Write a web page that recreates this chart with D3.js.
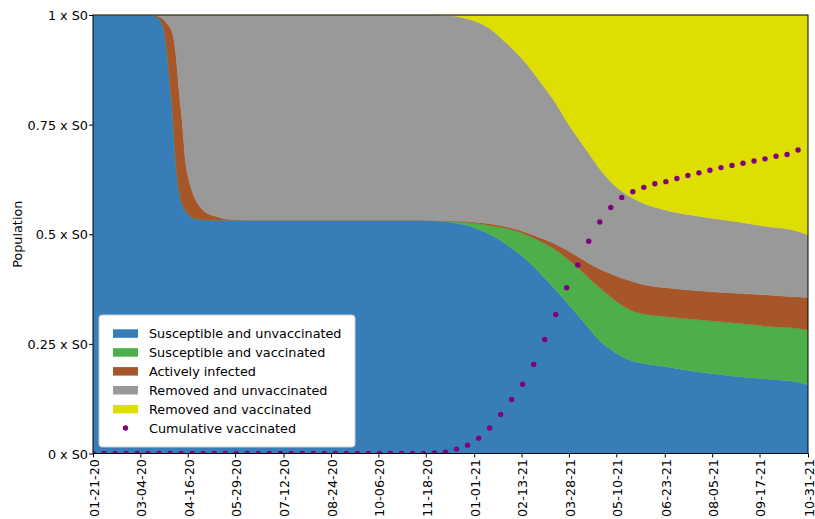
<!DOCTYPE html>
<html>
<head>
<meta charset="utf-8">
<script src="https://cdn.jsdelivr.net/npm/d3@7"></script>
<style>
  body { margin: 0; background: #fff; }
  text { font-family: "DejaVu Sans", sans-serif; fill: #000; }
</style>
</head>
<body>
<svg id="chart" width="815" height="519"></svg>
<script>
// Model output: share of the initial susceptible population S0 in each compartment
const startDate = "2020-01-21";
const dayOffsets = [0, 50, 55, 60, 63, 66, 69, 72, 75, 78, 81, 84, 87, 90, 95, 100, 110, 120, 130, 140,
  200, 300, 310, 320, 330, 340, 350, 360, 370, 380, 390, 400, 410, 420, 430, 440, 450, 460, 470, 480,
  490, 500, 520, 550, 580, 610, 640, 649];

const susceptibleUnvaccinated = [1, 1, 0.998, 0.991, 0.978, 0.942, 0.865, 0.784, 0.667, 0.600, 0.568, 0.553,
  0.544, 0.538, 0.534, 0.533, 0.532, 0.532, 0.532, 0.532, 0.532, 0.532, 0.531, 0.529, 0.525, 0.520, 0.511,
  0.500, 0.486, 0.468, 0.449, 0.426, 0.400, 0.373, 0.345, 0.316, 0.286, 0.257, 0.237, 0.221, 0.211, 0.205,
  0.198, 0.186, 0.177, 0.170, 0.163, 0.156];

const susceptibleVaccinated = [0, 0, 0, 0, 0, 0, 0, 0, 0, 0, 0, 0, 0, 0, 0, 0, 0, 0, 0, 0, 0, 0, 0,
  0.001, 0.004, 0.007, 0.013, 0.020, 0.030, 0.042, 0.053, 0.065, 0.079, 0.091, 0.100, 0.108, 0.114, 0.121,
  0.120, 0.117, 0.114, 0.113, 0.114, 0.119, 0.121, 0.121, 0.122, 0.126];

const activelyInfected = [0, 0, 0.002, 0.005, 0.014, 0.042, 0.110, 0.176, 0.248, 0.230, 0.187, 0.112, 0.081,
  0.060, 0.036, 0.022, 0.010, 0.003, 0.001, 0, 0, 0, 0, 0, 0.001, 0.002, 0.003, 0.004, 0.004, 0.004, 0.005,
  0.007, 0.009, 0.013, 0.019, 0.025, 0.034, 0.043, 0.053, 0.062, 0.067, 0.067, 0.066, 0.066, 0.068, 0.071,
  0.072, 0.074];

const removedUnvaccinated = [0, 0, 0, 0.004, 0.008, 0.016, 0.025, 0.040, 0.085, 0.170, 0.245, 0.335, 0.375,
  0.402, 0.430, 0.445, 0.458, 0.465, 0.467, 0.468, 0.468, 0.468, 0.469, 0.469, 0.467, 0.462, 0.456, 0.445,
  0.428, 0.411, 0.392, 0.370, 0.346, 0.322, 0.293, 0.271, 0.251, 0.228, 0.210, 0.198, 0.190, 0.185, 0.177,
  0.170, 0.164, 0.156, 0.150, 0.142];

const removedVaccinated = [0, 0, 0, 0, 0, 0, 0, 0, 0, 0, 0, 0, 0, 0, 0, 0, 0, 0, 0, 0, 0, 0, 0,
  0.001, 0.003, 0.009, 0.017, 0.031, 0.052, 0.075, 0.101, 0.132, 0.166, 0.201, 0.243, 0.280, 0.315, 0.351,
  0.380, 0.402, 0.418, 0.430, 0.445, 0.459, 0.470, 0.482, 0.493, 0.502];

// Cumulative vaccinated, sampled every 10 days from the start date
const vaccSampleStep = 10;
const cumulativeVaccinated = [0, 0, 0, 0, 0, 0, 0, 0, 0, 0, 0, 0, 0, 0, 0, 0, 0, 0, 0, 0, 0, 0, 0, 0, 0, 0,
  0, 0, 0, 0, 0, 0.001, 0.003, 0.010, 0.019, 0.035, 0.058, 0.089, 0.123, 0.158, 0.203, 0.260, 0.317, 0.378,
  0.430, 0.484, 0.528, 0.561, 0.584, 0.597, 0.607, 0.615, 0.620, 0.627, 0.634, 0.640, 0.646, 0.652, 0.657,
  0.662, 0.667, 0.672, 0.678, 0.682, 0.692];

const seriesNames = ["Susceptible and unvaccinated", "Susceptible and vaccinated", "Actively infected",
  "Removed and unvaccinated", "Removed and vaccinated"];
const seriesColors = ["#377eb8", "#4daf4a", "#a65628", "#999999", "#dede00"];
const dotColor = "#800080";

const xTickLabels = ["01-21-20", "03-04-20", "04-16-20", "05-29-20", "07-12-20", "08-24-20", "10-06-20",
  "11-18-20", "01-01-21", "02-13-21", "03-28-21", "05-10-21", "06-23-21", "08-05-21", "09-17-21", "10-31-21"];
const yTickValues = [0, 0.25, 0.5, 0.75, 1];

// ---- layout ----
const plot = { left: 93, right: 808, top: 15, bottom: 453.5 };
const fontSize = 12.8;
const svg = d3.select("#chart");

const parseISO = d3.timeParse("%Y-%m-%d");
const parseTick = d3.timeParse("%m-%d-%y");
const fmtTick = d3.timeFormat("%m-%d-%y");
const t0 = parseISO(startDate);
const dayToDate = d => d3.timeHour.offset(t0, Math.round(d * 24));

const x = d3.scaleTime()
  .domain([t0, parseTick("10-31-21")])
  .range([plot.left, plot.right]);
const y = d3.scaleLinear().domain([0, 1]).range([plot.bottom, plot.top]);

const seriesArrays = [susceptibleUnvaccinated, susceptibleVaccinated, activelyInfected,
  removedUnvaccinated, removedVaccinated];
const rows = dayOffsets.map((d, i) => {
  const r = { date: dayToDate(d) };
  seriesNames.forEach((k, j) => { r[k] = seriesArrays[j][i]; });
  return r;
});
const stacked = d3.stack().keys(seriesNames)(rows);

svg.append("defs").append("clipPath").attr("id", "plotClip")
  .append("rect")
  .attr("x", plot.left).attr("y", plot.top)
  .attr("width", plot.right - plot.left).attr("height", plot.bottom - plot.top);

const area = d3.area()
  .x(d => x(d.data.date))
  .y0(d => y(d[0]))
  .y1(d => y(d[1]))
  .curve(d3.curveMonotoneX);

const gPlot = svg.append("g").attr("clip-path", "url(#plotClip)");
gPlot.selectAll("path.layer")
  .data(stacked)
  .join("path")
  .attr("class", "layer")
  .attr("fill", (d, i) => seriesColors[i])
  .attr("stroke", (d, i) => seriesColors[i])
  .attr("stroke-width", 0.4)
  .attr("d", area);

// Cumulative vaccinated markers
gPlot.selectAll("circle.vacc")
  .data(cumulativeVaccinated)
  .join("circle")
  .attr("class", "vacc")
  .attr("cx", (v, i) => x(dayToDate(i * vaccSampleStep)))
  .attr("cy", v => y(v))
  .attr("r", 2.7)
  .attr("fill", dotColor);

// ---- axes ----
const xAxis = d3.axisBottom(x)
  .tickValues(xTickLabels.map(parseTick))
  .tickFormat(fmtTick)
  .tickSize(4).tickPadding(2);
const gx = svg.append("g").attr("transform", `translate(0,${plot.bottom})`).call(xAxis);
gx.select(".domain").remove();
gx.selectAll(".tick line").attr("stroke", "#000");
gx.selectAll(".tick text")
  .attr("font-size", fontSize)
  .attr("transform", "rotate(-90)")
  .attr("text-anchor", "end")
  .attr("x", -5.5)
  .attr("y", 0)
  .attr("dy", "0.42em");

const yAxis = d3.axisLeft(y)
  .tickValues(yTickValues)
  .tickFormat(v => `${v} x S0`)
  .tickSize(4).tickPadding(1);
const gy = svg.append("g").attr("transform", `translate(${plot.left},0)`).call(yAxis);
gy.select(".domain").remove();
gy.selectAll(".tick line").attr("stroke", "#000");
gy.selectAll(".tick text").attr("font-size", fontSize).attr("dy", "0.36em");

svg.append("text")
  .attr("transform", `translate(22,${(plot.top + plot.bottom) / 2}) rotate(-90)`)
  .attr("text-anchor", "middle")
  .attr("font-size", fontSize)
  .text("Population");

// frame
svg.append("rect")
  .attr("x", plot.left).attr("y", plot.top)
  .attr("width", plot.right - plot.left).attr("height", plot.bottom - plot.top)
  .attr("fill", "none").attr("stroke", "#000").attr("stroke-width", 1);

// ---- legend ----
const lg = svg.append("g").attr("transform", "translate(99,315)");
lg.append("rect")
  .attr("width", 256).attr("height", 132).attr("rx", 3)
  .attr("fill", "#fff").attr("stroke", "#cccccc").attr("stroke-width", 1);
const rowY = i => 18.5 + i * 18.9;
seriesNames.forEach((name, i) => {
  lg.append("rect")
    .attr("x", 14).attr("y", rowY(i) - 4.2)
    .attr("width", 25).attr("height", 8.5)
    .attr("fill", seriesColors[i]);
  lg.append("text")
    .attr("x", 50).attr("y", rowY(i)).attr("dy", "0.36em")
    .attr("font-size", fontSize).text(name);
});
lg.append("circle")
  .attr("cx", 26.5).attr("cy", rowY(5)).attr("r", 2.7).attr("fill", dotColor);
lg.append("text")
  .attr("x", 50).attr("y", rowY(5)).attr("dy", "0.36em")
  .attr("font-size", fontSize).text("Cumulative vaccinated");
</script>
</body>
</html>
